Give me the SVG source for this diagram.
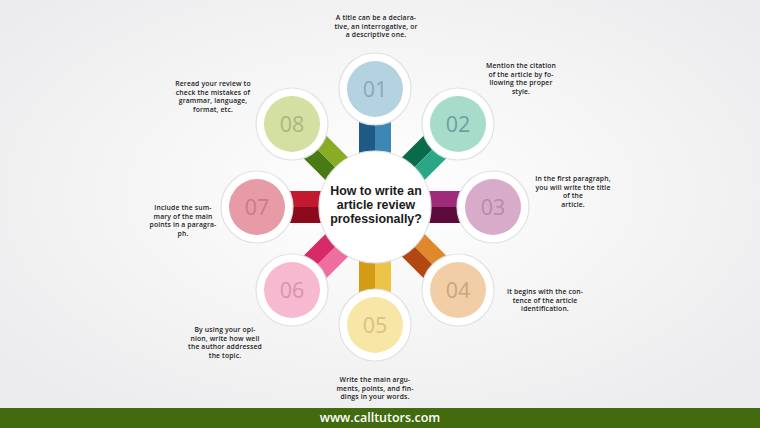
<svg xmlns="http://www.w3.org/2000/svg" width="760" height="428" viewBox="0 0 760 428">
  <defs>
    <radialGradient id="bg" cx="50%" cy="45%" r="65%">
      <stop offset="0" stop-color="#ffffff"/>
      <stop offset="1" stop-color="#ebebed"/>
    </radialGradient>
    <style>
      .ring { fill: #ffffff; stroke: #e2e2e4; stroke-width: 1.2; }
      .num { font-family: "Open Sans", "Noto Sans", sans-serif; font-size: 21.5px; font-weight: 500; text-anchor: middle; }
      .desc { font-family: "Open Sans", "Liberation Sans", sans-serif; font-size: 6.8px; font-weight: 600; fill: #1a1a1a; text-anchor: middle; letter-spacing: 0.15px; }
      .title { font-family: "Liberation Sans", Arial, sans-serif; font-size: 12.4px; font-weight: 700; fill: #1a1a1a; text-anchor: middle; }
    </style>
  </defs>
  <rect x="0" y="0" width="760" height="428" fill="url(#bg)"/>

  <g id="connectors">
    <g transform="rotate(0 375 207)"><rect x="359" y="100" width="16" height="66" fill="#1d5a86"/><rect x="375" y="100" width="16" height="66" fill="#3e87b4"/></g>
    <g transform="rotate(45 375 207)"><rect x="359" y="100" width="16" height="66" fill="#0a6a4c"/><rect x="375" y="100" width="16" height="66" fill="#2aa786"/></g>
    <g transform="rotate(90 375 207)"><rect x="359" y="100" width="16" height="66" fill="#a02a7c"/><rect x="375" y="100" width="16" height="66" fill="#5c0a3c"/></g>
    <g transform="rotate(135 375 207)"><rect x="359" y="100" width="16" height="66" fill="#e0892b"/><rect x="375" y="100" width="16" height="66" fill="#b2470f"/></g>
    <g transform="rotate(180 375 207)"><rect x="359" y="100" width="16" height="66" fill="#edc44a"/><rect x="375" y="100" width="16" height="66" fill="#d49c14"/></g>
    <g transform="rotate(225 375 207)"><rect x="359" y="100" width="16" height="66" fill="#ef6ea0"/><rect x="375" y="100" width="16" height="66" fill="#d92a68"/></g>
    <g transform="rotate(270 375 207)"><rect x="359" y="100" width="16" height="66" fill="#8a0a1c"/><rect x="375" y="100" width="16" height="66" fill="#c2192f"/></g>
    <g transform="rotate(315 375 207)"><rect x="359" y="100" width="16" height="66" fill="#4a7a14"/><rect x="375" y="100" width="16" height="66" fill="#88ad24"/></g>
  </g>

  <g id="center">
    <circle cx="375" cy="207" r="56" class="ring"/>
    <text class="title" x="376" y="194.5">How to write an</text>
    <text class="title" x="376" y="208.7">article review</text>
    <text class="title" x="376" y="222.9">professionally?</text>
  </g>

  <g id="node01">
    <circle cx="375" cy="89" r="36" class="ring"/>
    <circle cx="375" cy="89" r="28" fill="#b4d2df"/>
    <text class="num" x="375" y="96.5" fill="#8aa8b9">01</text>
    <text class="desc" x="376" y="20">A title can be a declara-</text>
    <text class="desc" x="376" y="28.5">tive, an interrogative, or</text>
    <text class="desc" x="376" y="37">a descriptive one.</text>
  </g>

  <g id="node02">
    <circle cx="458" cy="124" r="36" class="ring"/>
    <circle cx="458" cy="124" r="28" fill="#a7dccb"/>
    <text class="num" x="458" y="131.5" fill="#6d9fa2">02</text>
    <text class="desc" x="521" y="68">Mention the citation</text>
    <text class="desc" x="521" y="76.5">of the article by fo-</text>
    <text class="desc" x="521" y="85">llowing the proper</text>
    <text class="desc" x="521" y="93.5">style.</text>
  </g>

  <g id="node03">
    <circle cx="493" cy="207" r="36" class="ring"/>
    <circle cx="493" cy="207" r="28" fill="#d9abca"/>
    <text class="num" x="493" y="214.5" fill="#b78aa7">03</text>
    <text class="desc" x="573" y="181">In the first paragraph,</text>
    <text class="desc" x="573" y="189.5">you will write the title</text>
    <text class="desc" x="573" y="198">of the</text>
    <text class="desc" x="573" y="206.5">article.</text>
  </g>

  <g id="node04">
    <circle cx="458" cy="290" r="36" class="ring"/>
    <circle cx="458" cy="290" r="28" fill="#f1cea6"/>
    <text class="num" x="458" y="297.5" fill="#cba47f">04</text>
    <text class="desc" x="545" y="294">It begins with the con-</text>
    <text class="desc" x="545" y="302.5">tence of the article</text>
    <text class="desc" x="545" y="311">identification.</text>
  </g>

  <g id="node05">
    <circle cx="375" cy="325" r="36" class="ring"/>
    <circle cx="375" cy="325" r="28" fill="#f8e6a7"/>
    <text class="num" x="375" y="332.5" fill="#d8c283">05</text>
    <text class="desc" x="375" y="382">Write the main argu-</text>
    <text class="desc" x="375" y="390.5">ments, points, and fin-</text>
    <text class="desc" x="375" y="399">dings in your words.</text>
  </g>

  <g id="node06">
    <circle cx="292" cy="290" r="36" class="ring"/>
    <circle cx="292" cy="290" r="28" fill="#f6b9cf"/>
    <text class="num" x="292" y="297.5" fill="#d994ad">06</text>
    <text class="desc" x="225" y="332">By using your opi-</text>
    <text class="desc" x="225" y="340.5">nion, write how well</text>
    <text class="desc" x="225" y="349">the author addressed</text>
    <text class="desc" x="225" y="357.5">the topic.</text>
  </g>

  <g id="node07">
    <circle cx="257" cy="207" r="36" class="ring"/>
    <circle cx="257" cy="207" r="28" fill="#e69ba6"/>
    <text class="num" x="257" y="214.5" fill="#c97c89">07</text>
    <text class="desc" x="183" y="210">Include the sum-</text>
    <text class="desc" x="183" y="218.5">mary of the main</text>
    <text class="desc" x="183" y="227">points in a paragra-</text>
    <text class="desc" x="183" y="235.5">ph.</text>
  </g>

  <g id="node08">
    <circle cx="292" cy="124" r="36" class="ring"/>
    <circle cx="292" cy="124" r="28" fill="#d3e0a1"/>
    <text class="num" x="292" y="131.5" fill="#a8b77e">08</text>
    <text class="desc" x="213" y="86">Reread your review to</text>
    <text class="desc" x="213" y="94.5">check the mistakes of</text>
    <text class="desc" x="213" y="103">grammar, language,</text>
    <text class="desc" x="213" y="111.5">format, etc.</text>
  </g>

  <g id="footer">
    <rect x="0" y="408" width="760" height="20" fill="#416b0e"/>
    <text x="380" y="422" fill="#ffffff" font-family="Open Sans, Liberation Sans, sans-serif" font-size="12.5" font-weight="600" text-anchor="middle">www.calltutors.com</text>
  </g>
</svg>
